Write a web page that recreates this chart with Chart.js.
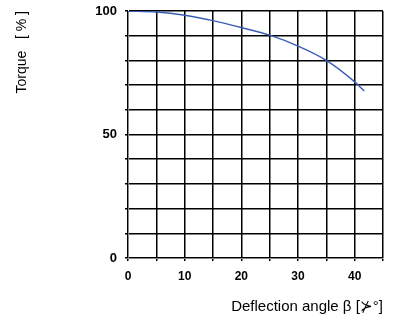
<!DOCTYPE html>
<html>
<head>
<meta charset="utf-8">
<script src="https://cdn.jsdelivr.net/npm/chart.js@4"></script>
<style>
  html, body { margin: 0; padding: 0; background: #fff; }
  #wrap { width: 400px; height: 320px; }
</style>
</head>
<body>
<div id="wrap"><canvas id="c" width="400" height="320"></canvas></div>
<script>
// deflection angle in degrees, torque in percent
const angles = [0, 5, 10, 15, 20, 25, 30, 35, 40, 41.7];
const torque = [100, 99.6, 98.3, 96.1, 93.3, 90.2, 85.8, 80.0, 71.3, 67.6];
const xTickLabels = [0, 10, 20, 30, 40];
const yTickLabels = [0, 50, 100];

const points = angles.map((a, i) => ({ x: a, y: torque[i] }));

new Chart(document.getElementById('c').getContext('2d'), {
  type: 'line',
  data: {
    datasets: [{
      data: points,
      borderColor: '#3a5db4',
      borderWidth: 1.4,
      pointRadius: 0,
      cubicInterpolationMode: 'monotone',
      fill: false
    }]
  },
  options: {
    responsive: false,
    animation: false,
    layout: { padding: { top: 0, right: 17, left: 0, bottom: 0 } },
    plugins: { legend: { display: false }, tooltip: { enabled: false } },
    scales: {
      x: {
        type: 'linear',
        min: 0,
        max: 45,
        afterFit: (s) => { s.height = 62; },
        border: { color: '#888', width: 1 },
        grid: { color: '#000', lineWidth: 1.5, tickLength: 3 },
        ticks: {
          stepSize: 5,
          autoSkip: false,
          maxRotation: 0,
          padding: 8,
          color: '#000',
          font: { family: 'Liberation Sans, Arial', size: 12, weight: 'bold' },
          callback: (v) => xTickLabels.includes(v) ? String(v) : ''
        },
        title: {
          display: true,
          text: 'Deflection angle β [⊁°]',
          align: 'end',
          color: '#000',
          font: { family: 'Liberation Sans, Arial', size: 15 },
          padding: { top: 6 }
        }
      },
      y: {
        min: 0,
        max: 100,
        afterFit: (s) => { s.width = 128; s.paddingTop = 11; },
        border: { color: '#888', width: 1 },
        grid: { color: '#000', lineWidth: 1.5, tickLength: 3 },
        ticks: {
          stepSize: 10,
          autoSkip: false,
          padding: 8,
          color: '#000',
          font: { family: 'Liberation Sans, Arial', size: 13, weight: 'bold' },
          callback: (v) => yTickLabels.includes(v) ? String(v) : ''
        },
        title: {
          display: true,
          text: 'Torque   [ % ]',
          align: 'end',
          color: '#000',
          font: { family: 'Liberation Sans, Arial', size: 14 },
          padding: { top: 14, bottom: 0 }
        }
      }
    }
  }
});
</script>
</body>
</html>
